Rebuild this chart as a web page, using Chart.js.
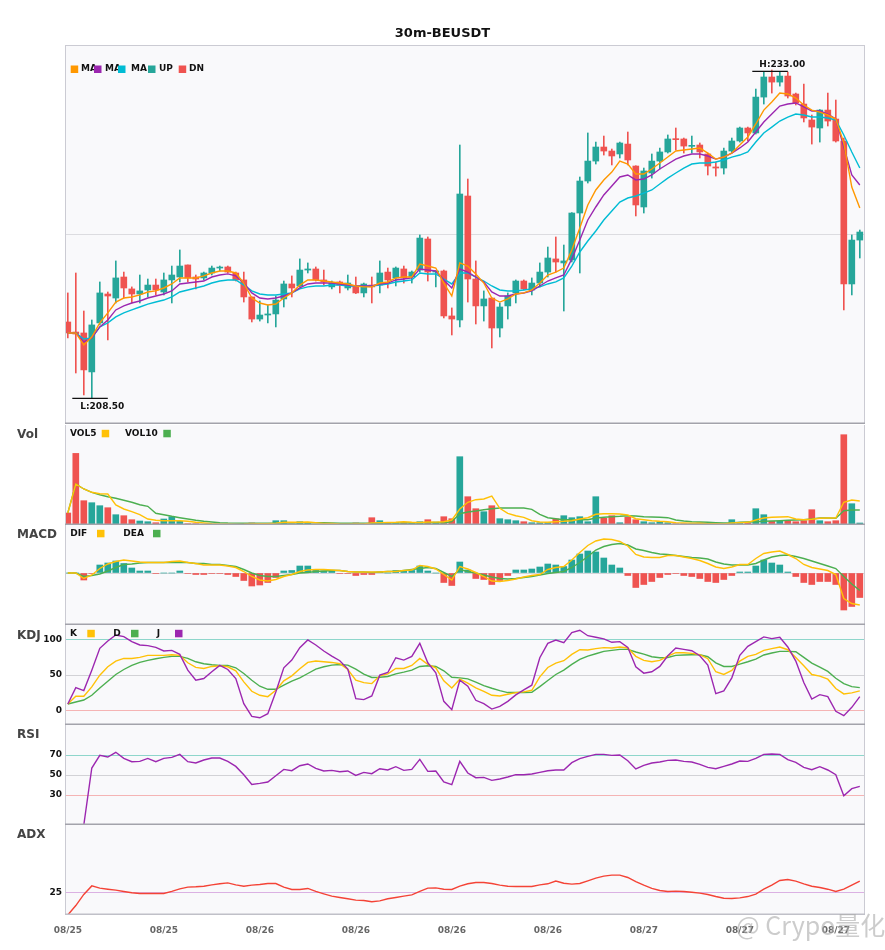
<!DOCTYPE html>
<html>
<head>
<meta charset="utf-8">
<title>30m-BEUSDT</title>
<script src="https://cdn.jsdelivr.net/npm/chart.js@4.4.0/dist/chart.umd.min.js"></script>
<style>
  body { margin: 0; background: #fff; }
  #wrap { position: relative; width: 885px; height: 950px; overflow: hidden; }
  #wrap canvas { position: absolute; left: 0; }
</style>
</head>
<body>
<div id="wrap">
  <canvas id="cMain" width="885" height="425" style="top:0"></canvas>
  <canvas id="cVol" width="885" height="100" style="top:425px"></canvas>
  <canvas id="cMacd" width="885" height="100" style="top:525px"></canvas>
  <canvas id="cKdj" width="885" height="100" style="top:625px"></canvas>
  <canvas id="cRsi" width="885" height="100" style="top:725px"></canvas>
  <canvas id="cAdx" width="885" height="125" style="top:825px"></canvas>
</div>
<script>
// x axis tick labels (one every 12 candles of 30m)
var tickLabels = ['08/25', '08/25', '08/26', '08/26', '08/26', '08/26', '08/27', '08/27', '08/27'];
var tickIdx = [0, 12, 24, 36, 48, 60, 72, 84, 96];

// candles
var open = [214.18, 213.43, 213.36, 210.45, 214.11, 216.27, 215.97, 217.54, 216.65, 216.27,
  216.57, 216.94, 216.42, 217.32, 217.54, 218.44, 217.54, 217.47, 217.84, 218.21,
  218.29, 217.84, 217.32, 216.05, 214.40, 214.70, 214.78, 215.90, 217.02, 216.87,
  218.06, 218.14, 217.32, 216.80, 217.17, 216.72, 216.80, 216.35, 216.94, 216.94,
  217.91, 217.47, 218.14, 217.54, 218.06, 220.38, 217.91, 217.99, 214.63, 214.33,
  223.59, 217.39, 215.38, 215.97, 213.73, 215.38, 216.35, 217.24, 216.57, 217.09,
  217.91, 218.89, 218.59, 218.81, 222.32, 224.71, 226.20, 227.25, 226.95, 226.73,
  227.47, 225.83, 222.77, 225.31, 226.20, 226.88, 227.85, 227.85, 227.30, 227.40,
  226.73, 225.76, 225.68, 226.95, 227.70, 228.67, 228.30, 230.98, 232.48, 232.10,
  232.55, 231.21, 230.46, 229.27, 228.67, 230.01, 229.34, 227.70, 217.02, 220.30];
var high = [216.35, 217.84, 215.00, 214.33, 217.17, 216.42, 218.74, 217.91, 216.80, 217.69,
  217.39, 217.39, 217.84, 218.36, 219.56, 218.44, 217.69, 217.91, 218.36, 218.36,
  218.36, 217.91, 217.91, 216.05, 215.75, 215.45, 216.12, 217.24, 217.62, 218.89,
  218.59, 218.29, 218.06, 217.24, 217.24, 217.69, 217.54, 217.09, 217.54, 218.74,
  218.21, 218.29, 218.36, 217.99, 220.68, 220.53, 218.00, 218.06, 215.23, 227.40,
  224.86, 218.74, 216.50, 215.97, 215.60, 216.35, 217.32, 217.32, 217.47, 218.59,
  219.78, 220.53, 219.93, 222.35, 225.01, 228.30, 227.62, 228.07, 227.10, 227.62,
  228.37, 225.85, 225.68, 226.73, 227.17, 228.15, 228.67, 227.92, 228.07, 227.55,
  226.80, 226.13, 227.17, 227.92, 228.74, 228.74, 231.58, 232.85, 233.00, 232.85,
  232.85, 231.28, 231.95, 229.64, 230.05, 231.28, 230.76, 227.92, 220.68, 221.05];
var low = [212.99, 210.37, 208.73, 208.50, 213.96, 212.84, 215.60, 215.97, 215.60, 215.60,
  216.05, 216.20, 216.20, 215.60, 217.17, 217.17, 216.65, 217.32, 217.69, 217.99,
  217.84, 217.24, 215.67, 214.18, 214.25, 214.11, 213.81, 215.30, 216.05, 216.80,
  217.84, 217.24, 216.94, 216.65, 216.35, 216.57, 216.30, 216.05, 215.60, 216.35,
  216.72, 216.87, 217.09, 217.09, 217.91, 217.24, 216.80, 214.48, 213.21, 213.81,
  215.67, 214.03, 214.25, 212.24, 213.06, 214.40, 215.60, 216.57, 216.20, 216.80,
  217.54, 217.91, 215.00, 218.66, 217.84, 224.56, 225.98, 226.65, 225.91, 226.43,
  225.91, 222.10, 222.32, 224.93, 225.61, 226.80, 227.03, 226.80, 226.80, 226.43,
  225.16, 225.08, 225.23, 226.80, 227.62, 227.70, 228.22, 230.46, 231.28, 231.80,
  230.91, 230.39, 229.12, 227.47, 227.62, 228.82, 227.62, 215.08, 216.20, 218.96];
var close = [213.36, 213.28, 210.60, 213.96, 216.35, 216.12, 217.47, 216.72, 216.27, 216.50,
  216.94, 216.57, 217.32, 217.69, 218.36, 217.47, 217.39, 217.84, 218.21, 218.25,
  217.91, 217.32, 216.05, 214.40, 214.70, 214.78, 215.82, 217.02, 216.72, 218.06,
  218.14, 217.32, 217.17, 217.09, 216.94, 217.09, 216.35, 217.02, 216.80, 217.84,
  217.32, 218.21, 217.47, 217.91, 220.45, 217.91, 217.99, 214.63, 214.40, 223.74,
  217.39, 215.38, 215.90, 213.73, 215.30, 216.12, 217.24, 216.65, 217.09, 217.91,
  218.96, 218.66, 218.74, 222.32, 224.71, 226.20, 227.25, 226.95, 226.58, 227.55,
  226.28, 222.92, 225.46, 226.20, 226.88, 227.85, 227.80, 227.32, 227.35, 226.88,
  225.83, 225.68, 226.95, 227.70, 228.67, 228.30, 230.98, 232.48, 232.10, 232.55,
  231.06, 230.54, 229.42, 228.74, 230.01, 229.19, 227.70, 217.02, 220.30, 220.90];

// moving averages
var ma5 = [213.36, 213.36, 212.47, 213.06, 214.11, 214.86, 215.67, 215.97, 216.05, 216.20,
  216.42, 216.50, 216.72, 217.02, 217.47, 217.47, 217.47, 217.62, 217.84, 217.99,
  217.99, 217.84, 217.09, 215.97, 215.60, 215.45, 215.52, 215.97, 216.35, 216.94,
  217.32, 217.32, 217.24, 217.17, 217.09, 217.02, 216.87, 216.80, 216.80, 217.09,
  217.17, 217.47, 217.54, 217.54, 218.51, 218.36, 218.21, 217.09, 216.12, 218.59,
  218.36, 217.77, 217.09, 215.97, 215.67, 215.90, 216.27, 216.35, 216.57, 217.09,
  217.69, 217.91, 218.21, 219.56, 221.20, 222.92, 224.04, 224.79, 225.38, 226.20,
  225.98, 225.23, 225.23, 225.61, 226.06, 226.50, 226.95, 227.03, 227.10, 227.17,
  226.80, 226.35, 226.50, 226.80, 227.40, 228.00, 228.97, 230.01, 230.61, 231.28,
  231.21, 230.91, 230.39, 230.01, 229.86, 229.64, 229.34, 227.55, 224.26, 222.69];
var ma10 = [213.36, 213.36, 212.69, 212.99, 213.81, 214.33, 215.08, 215.38, 215.60, 215.75,
  215.97, 216.12, 216.27, 216.50, 217.02, 217.09, 217.17, 217.24, 217.54, 217.69,
  217.77, 217.62, 217.09, 216.35, 215.97, 215.90, 215.97, 216.12, 216.35, 216.72,
  217.02, 217.09, 217.09, 217.09, 217.02, 216.94, 216.87, 216.87, 216.87, 217.02,
  217.09, 217.32, 217.39, 217.47, 218.14, 218.06, 217.99, 217.32, 216.72, 218.14,
  217.91, 217.54, 217.17, 216.42, 216.12, 216.12, 216.27, 216.35, 216.50, 216.87,
  217.24, 217.47, 217.69, 218.89, 220.30, 221.80, 222.77, 223.67, 224.34, 225.01,
  225.16, 224.79, 224.86, 225.16, 225.61, 225.98, 226.35, 226.58, 226.73, 226.73,
  226.58, 226.35, 226.50, 226.80, 227.18, 227.62, 228.37, 229.12, 229.71, 230.31,
  230.46, 230.54, 230.24, 229.94, 229.94, 229.71, 229.34, 227.25, 225.16, 224.41];
var ma20 = [213.36, 213.36, 212.91, 212.99, 213.81, 214.11, 214.56, 214.86, 215.08, 215.30,
  215.52, 215.67, 215.82, 216.05, 216.42, 216.57, 216.72, 216.87, 217.09, 217.24,
  217.32, 217.32, 216.94, 216.50, 216.27, 216.20, 216.20, 216.27, 216.35, 216.65,
  216.80, 216.87, 216.87, 216.94, 216.94, 216.87, 216.87, 216.87, 216.87, 216.94,
  217.02, 217.17, 217.24, 217.32, 217.84, 217.77, 217.77, 217.39, 217.02, 217.84,
  217.84, 217.54, 217.24, 216.87, 216.57, 216.50, 216.50, 216.57, 216.65, 216.80,
  217.02, 217.17, 217.47, 218.36, 219.41, 220.23, 220.98, 221.80, 222.47, 223.14,
  223.44, 223.59, 223.81, 224.04, 224.49, 224.93, 225.31, 225.68, 225.98, 226.06,
  226.06, 226.13, 226.28, 226.50, 226.65, 226.88, 227.62, 228.30, 228.74, 229.19,
  229.49, 229.71, 229.64, 229.49, 229.49, 229.42, 229.27, 228.15, 226.88, 225.68];

// volume
var vol = [1200, 7160, 2430, 2230, 1930, 1730, 1030, 930, 530, 400,
  330, 230, 600, 830, 370, 130, 130, 40, 50, 50,
  60, 80, 100, 200, 100, 100, 430, 430, 100, 330,
  200, 70, 100, 70, 70, 70, 200, 70, 730, 430,
  200, 270, 230, 200, 330, 530, 300, 830, 630, 6830,
  2830, 1630, 1330, 1930, 630, 530, 430, 330, 230, 230,
  270, 600, 930, 730, 830, 330, 2830, 670, 930, 230,
  770, 530, 330, 230, 330, 230, 130, 130, 130, 200,
  130, 130, 70, 530, 200, 200, 1630, 1030, 370, 370,
  430, 330, 430, 1530, 430, 330, 430, 9030, 2130, 200];
var vol5 = [1200, 4100, 3600, 3270, 3130, 3100, 2000, 1600, 1330, 1030,
  600, 470, 430, 430, 430, 370, 270, 200, 130, 80,
  70, 60, 70, 100, 120, 130, 190, 270, 270, 280,
  300, 230, 160, 150, 100, 80, 110, 100, 210, 240,
  260, 280, 320, 270, 250, 300, 290, 330, 500, 1600,
  2270, 2530, 2600, 2900, 1670, 1170, 930, 770, 430, 300,
  270, 330, 370, 430, 600, 730, 1070, 1130, 1130, 1100,
  1000, 630, 530, 430, 370, 330, 230, 200, 170, 170,
  130, 130, 100, 200, 230, 270, 500, 700, 770, 800,
  830, 600, 530, 570, 670, 700, 700, 2270, 2500, 2400];
var vol10 = [1200, 4100, 3600, 3270, 3030, 2830, 2670, 2470, 2270, 2030,
  1870, 1170, 1030, 870, 730, 600, 470, 370, 300, 230,
  200, 190, 180, 180, 180, 170, 170, 200, 200, 220,
  230, 230, 220, 200, 180, 170, 170, 170, 180, 180,
  190, 190, 200, 200, 200, 220, 230, 200, 330, 1130,
  1300, 1400, 1530, 1630, 1700, 1700, 1700, 1700, 1570, 1070,
  730, 630, 530, 530, 530, 530, 700, 770, 830, 870,
  930, 900, 830, 800, 770, 730, 500, 400, 330, 300,
  270, 230, 200, 200, 270, 300, 330, 370, 400, 430,
  470, 500, 530, 600, 700, 700, 670, 1430, 1500, 1500];

// MACD
var dif = [0, 0, -0.11, -0.04, 0.09, 0.18, 0.23, 0.26, 0.24, 0.22,
  0.21, 0.21, 0.21, 0.23, 0.24, 0.21, 0.19, 0.16, 0.16, 0.16,
  0.14, 0.11, 0.03, -0.07, -0.14, -0.16, -0.13, -0.07, -0.03, 0.03,
  0.06, 0.07, 0.07, 0.06, 0.05, 0.03, 0.02, 0.02, 0.02, 0.02,
  0.03, 0.03, 0.05, 0.06, 0.15, 0.13, 0.08, -0.03, -0.14, 0.13,
  0.08, 0.01, -0.07, -0.16, -0.17, -0.15, -0.12, -0.08, -0.05, -0.03,
  0.07, 0.11, 0.13, 0.26, 0.41, 0.55, 0.64, 0.68, 0.67, 0.63,
  0.54, 0.37, 0.32, 0.31, 0.31, 0.35, 0.35, 0.32, 0.29, 0.25,
  0.19, 0.12, 0.09, 0.12, 0.17, 0.17, 0.29, 0.39, 0.42, 0.44,
  0.37, 0.29, 0.17, 0.11, 0.08, 0.05, -0.03, -0.51, -0.61, -0.64];
var dea = [0, 0, -0.07, -0.05, -0.02, 0.04, 0.11, 0.17, 0.18, 0.20,
  0.21, 0.21, 0.21, 0.21, 0.21, 0.21, 0.19, 0.19, 0.17, 0.17,
  0.15, 0.13, 0.07, 0.00, -0.05, -0.07, -0.07, -0.05, -0.03, 0.00,
  0.01, 0.03, 0.04, 0.05, 0.05, 0.03, 0.02, 0.02, 0.01, 0.02,
  0.03, 0.03, 0.05, 0.07, 0.09, 0.11, 0.09, 0.01, -0.07, 0.07,
  0.03, 0.00, -0.04, -0.08, -0.11, -0.12, -0.11, -0.09, -0.07, -0.04,
  -0.01, 0.01, 0.03, 0.11, 0.21, 0.33, 0.46, 0.53, 0.57, 0.59,
  0.56, 0.48, 0.45, 0.41, 0.38, 0.37, 0.35, 0.33, 0.31, 0.30,
  0.28, 0.22, 0.18, 0.16, 0.16, 0.16, 0.19, 0.26, 0.32, 0.35,
  0.36, 0.33, 0.29, 0.24, 0.19, 0.14, 0.09, -0.07, -0.22, -0.35];
var macd = [0, 0, -0.14, -0.01, 0.16, 0.20, 0.24, 0.19, 0.10, 0.04,
  0.04, -0.01, 0.00, 0.00, 0.04, -0.01, -0.03, -0.03, -0.01, -0.01,
  -0.03, -0.07, -0.15, -0.26, -0.24, -0.19, -0.09, 0.04, 0.05, 0.14,
  0.14, 0.07, 0.04, 0.04, -0.01, -0.01, -0.05, -0.03, -0.03, 0.02,
  0.00, 0.05, 0.05, 0.05, 0.14, 0.04, 0.00, -0.19, -0.25, 0.22,
  0.06, -0.11, -0.13, -0.23, -0.15, -0.05, 0.06, 0.06, 0.08, 0.12,
  0.18, 0.16, 0.13, 0.26, 0.38, 0.44, 0.42, 0.30, 0.16, 0.10,
  -0.05, -0.29, -0.23, -0.17, -0.09, -0.03, -0.01, -0.05, -0.07, -0.11,
  -0.17, -0.19, -0.13, -0.05, 0.02, 0.02, 0.14, 0.26, 0.20, 0.16,
  0.02, -0.07, -0.19, -0.23, -0.17, -0.17, -0.23, -0.74, -0.67, -0.49];

// KDJ
var kdjK = [9.4, 20.2, 20.2, 33.3, 49.8, 61.5, 69.5, 73.2, 73.2, 74.6,
  77.5, 77.5, 77.5, 78.4, 77.5, 67.1, 60.6, 59.2, 62.0, 62.9,
  61.5, 55.9, 40.4, 27.2, 21.6, 19.7, 28.6, 41.8, 48.8, 58.7,
  67.6, 69.5, 68.5, 67.6, 65.7, 57.7, 42.7, 39.4, 38.0, 48.8,
  51.6, 59.2, 59.2, 63.4, 73.2, 64.8, 60.1, 41.8, 31.9, 44.1,
  38.5, 31.9, 27.2, 21.6, 20.7, 23.0, 25.4, 26.3, 28.6, 47.4,
  60.6, 66.7, 70.0, 78.9, 85.4, 85.0, 86.9, 88.3, 87.8, 89.2,
  87.8, 76.1, 70.4, 68.5, 70.4, 76.5, 81.2, 81.2, 80.3, 78.4,
  72.8, 54.5, 50.7, 56.3, 69.5, 76.1, 78.9, 84.5, 86.9, 89.2,
  85.4, 74.6, 62.9, 50.7, 48.4, 44.1, 31.0, 23.5, 24.9, 27.7];
var kdjD = [9.4, 12.2, 15.0, 21.6, 31.9, 41.3, 50.7, 57.7, 63.4, 67.6,
  70.4, 72.8, 74.6, 76.1, 76.1, 73.2, 68.5, 65.7, 64.3, 63.4,
  63.4, 60.1, 52.1, 42.7, 34.3, 30.0, 30.0, 35.7, 41.3, 46.0,
  52.1, 58.2, 61.5, 63.8, 64.8, 63.8, 58.2, 51.2, 46.5, 46.9,
  47.9, 51.6, 54.0, 56.8, 62.0, 62.9, 62.0, 55.9, 46.9, 46.0,
  44.6, 39.9, 35.2, 31.5, 28.2, 25.4, 25.4, 25.4, 25.8, 33.8,
  42.3, 50.7, 56.8, 64.8, 71.8, 76.5, 79.8, 83.1, 84.5, 85.9,
  85.9, 82.2, 79.3, 75.6, 74.2, 74.6, 77.5, 78.0, 78.4, 78.4,
  75.6, 67.1, 62.0, 62.0, 65.3, 68.5, 72.3, 78.0, 80.8, 83.1,
  83.1, 82.6, 74.6, 66.7, 61.0, 55.0, 45.5, 38.0, 33.8, 32.4];
var kdjJ = [9.4, 32.4, 28.2, 56.8, 87.3, 97.7, 106.0, 103.8, 96.7, 92.0,
  91.1, 88.7, 83.6, 84.5, 78.9, 56.8, 42.7, 45.1, 54.5, 63.4,
  57.7, 45.1, 9.9, -8.0, -9.9, -4.2, 26.3, 60.1, 70.9, 88.3,
  99.0, 92.0, 83.6, 76.5, 70.0, 58.2, 16.9, 15.5, 20.7, 49.8,
  53.5, 74.2, 70.9, 76.1, 94.4, 67.1, 53.1, 13.1, 1.4, 42.7,
  34.3, 14.6, 9.9, 2.3, 6.1, 13.1, 22.1, 29.1, 35.7, 74.2,
  94.4, 99.0, 95.3, 109.4, 112.7, 105.0, 102.8, 100.5, 95.8, 96.7,
  88.7, 61.5, 52.6, 54.5, 62.0, 77.0, 87.8, 85.9, 84.0, 77.0,
  63.8, 23.9, 27.7, 46.0, 77.5, 90.1, 96.7, 103.3, 100.9, 102.8,
  89.2, 69.5, 39.4, 16.4, 22.5, 19.7, -0.9, -7.0, 4.7, 19.7];

// RSI
var rsi = [null, null, 0, 57.0, 69.6, 68.0, 72.7, 66.6, 63.3, 63.6,
  66.6, 63.3, 66.6, 67.6, 70.6, 63.3, 62.0, 65.0, 67.0, 67.0,
  63.6, 58.6, 50.3, 40.6, 41.6, 43.0, 49.3, 55.6, 54.3, 59.3,
  61.0, 56.6, 54.0, 54.6, 53.3, 54.0, 49.6, 52.6, 51.3, 56.3,
  55.0, 58.3, 54.6, 55.6, 65.6, 53.6, 54.0, 43.0, 40.3, 63.6,
  52.0, 47.3, 47.6, 44.6, 46.0, 48.0, 50.3, 50.3, 51.0, 52.6,
  54.3, 55.0, 55.0, 62.3, 66.3, 68.6, 70.6, 70.6, 69.6, 70.0,
  64.3, 56.0, 59.6, 62.0, 63.0, 64.6, 65.0, 63.6, 63.0, 60.6,
  57.6, 56.3, 58.6, 61.0, 64.0, 63.6, 66.6, 70.6, 71.0, 70.6,
  65.3, 62.6, 57.6, 55.3, 58.3, 55.0, 50.3, 29.3, 36.3, 38.6];

// ADX
var adx = [10.0, 16.3, 23.7, 29.4, 27.9, 27.2, 26.6, 25.7, 24.8, 24.3,
  24.3, 24.3, 24.3, 25.7, 27.4, 28.6, 28.8, 29.2, 30.1, 30.8,
  31.4, 30.1, 29.2, 29.9, 30.3, 31.0, 31.0, 28.6, 27.0, 27.0,
  27.7, 25.7, 24.1, 22.6, 21.7, 20.8, 19.9, 19.7, 18.8, 19.4,
  20.8, 21.7, 22.6, 23.4, 25.7, 27.9, 28.1, 27.2, 27.0, 29.2,
  30.8, 31.7, 31.7, 31.0, 29.9, 29.2, 29.0, 29.0, 29.0, 30.1,
  30.8, 32.6, 31.2, 30.6, 31.0, 32.8, 34.6, 35.9, 36.6, 36.6,
  35.0, 32.3, 29.9, 27.7, 26.3, 25.7, 25.9, 25.7, 25.2, 24.6,
  23.7, 22.3, 21.2, 21.0, 21.4, 22.3, 23.9, 27.2, 29.9, 33.0,
  33.7, 32.6, 30.8, 29.2, 28.3, 27.2, 25.7, 27.2, 29.9, 32.6];

// colours
var UP = '#26a69a', DN = '#ef5350';
var ORANGE = '#ff9800', PURPLE = '#9c27b0', CYAN = '#00bcd4';
var YELLOW = '#ffc107', GREEN = '#4caf50', RED = '#f44336';
var FONT = '"DejaVu Sans", sans-serif';

Chart.defaults.font.family = FONT;

function pts(arr) {
  return arr.map(function (v, i) { return { x: i, y: v }; });
}
var dirColor = close.map(function (c, i) { return c >= open[i] ? UP : DN; });
var macdColor = macd.map(function (v) { return v >= 0 ? UP : DN; });

function lineSet(arr, color, order) {
  return {
    type: 'line', data: pts(arr), borderColor: color, backgroundColor: color,
    borderWidth: 1.4, pointRadius: 0, tension: 0, fill: false, order: order || 0
  };
}

function xAxis(show) {
  var x = {
    type: 'linear', min: -0.35, max: 99.65, offset: false, display: show,
    grid: { display: false }, border: { display: false },
    afterBuildTicks: function (s) { s.ticks = tickIdx.map(function (v) { return { value: v }; }); },
    ticks: {
      autoSkip: false, maxRotation: 0, padding: 2, color: '#666',
      font: { size: 9, weight: 'bold' },
      callback: function (v, k) { return tickLabels[k]; }
    }
  };
  // only the bottom panel keeps room for the dates
  if (show) x.afterFit = function (s) { s.height = 35; };
  return x;
}

function yAxis(min, max, ticks, colors, showLabels) {
  var y = {
    min: min, max: max, position: 'left',
    afterFit: function (s) {
      // fixed gutter, and no extra room for the edge labels
      s.width = 65;
      s.paddingTop = 0;
      s.paddingBottom = 0;
    },
    border: { display: false },
    grid: {
      display: !!ticks, drawTicks: false, lineWidth: 1,
      color: function (c) { return ticks ? (colors[ticks.indexOf(c.tick.value)] || '#ddd') : '#ddd'; }
    },
    ticks: { display: showLabels, padding: 3, color: '#111', font: { size: 9, weight: 'bold' } }
  };
  if (ticks) {
    y.afterBuildTicks = function (s) { s.ticks = ticks.map(function (v) { return { value: v }; }); };
  }
  return y;
}

// background, frame, panel title, legend and extra text
var panelPlugin = {
  id: 'panel',
  beforeDraw: function (chart) {
    var ctx = chart.ctx, a = chart.chartArea;
    ctx.save();
    ctx.fillStyle = '#f9f9fb';
    ctx.fillRect(a.left, a.top, a.right - a.left, a.bottom - a.top);
    ctx.restore();
  },
  afterDraw: function (chart) {
    var o = chart.options.plugins.panel;
    var ctx = chart.ctx, a = chart.chartArea;
    ctx.save();
    // frame
    ctx.strokeStyle = '#cbcbd3';
    ctx.lineWidth = 1;
    ctx.beginPath();
    ctx.moveTo(a.left + 0.5, a.top); ctx.lineTo(a.left + 0.5, a.bottom);
    ctx.moveTo(a.right - 0.5, a.top); ctx.lineTo(a.right - 0.5, a.bottom);
    if (o.topLine) { ctx.moveTo(a.left, a.top + 0.5); ctx.lineTo(a.right, a.top + 0.5); }
    ctx.stroke();
    ctx.strokeStyle = o.bottomColor || '#a3a3ab';
    ctx.lineWidth = 1.5;
    ctx.beginPath();
    ctx.moveTo(a.left, a.bottom - 0.75); ctx.lineTo(a.right, a.bottom - 0.75);
    ctx.stroke();

    // panel name on the left
    if (o.name) {
      ctx.fillStyle = '#444';
      ctx.font = 'bold 12px ' + FONT;
      ctx.textAlign = 'left';
      ctx.textBaseline = 'middle';
      ctx.fillText(o.name, 17, o.nameY);
    }

    // legend row
    ctx.font = 'bold 9px ' + FONT;
    ctx.textBaseline = 'middle';
    ctx.textAlign = 'left';
    (o.legend || []).forEach(function (it) {
      if (it.box) {
        ctx.fillStyle = it.box;
        ctx.fillRect(it.x, o.legendY - 3.5, 7.5, 7.5);
      } else {
        ctx.fillStyle = '#111';
        ctx.fillText(it.text, it.x, o.legendY);
      }
    });

    // chart title
    if (o.title) {
      ctx.fillStyle = '#111';
      ctx.font = 'bold 13px ' + FONT;
      ctx.textAlign = 'center';
      ctx.fillText(o.title, 442.5, 34);
    }

    // highest / lowest marks
    if (o.marks) {
      var xs = chart.scales.x, ys = chart.scales.y;
      var hi = high.indexOf(Math.max.apply(null, high));
      var lo = low.indexOf(Math.min.apply(null, low));
      ctx.strokeStyle = '#111';
      ctx.lineWidth = 1.3;
      ctx.fillStyle = '#111';
      ctx.font = 'bold 9px ' + FONT;
      ctx.textAlign = 'center';
      var hx = xs.getPixelForValue(hi), hy = ys.getPixelForValue(high[hi]);
      ctx.beginPath(); ctx.moveTo(hx - 19.5, hy + 1.3); ctx.lineTo(hx + 16, hy + 1.3); ctx.stroke();
      ctx.fillText('H:' + high[hi].toFixed(2), hx + 10.5, hy - 5.3);
      var lx = xs.getPixelForValue(lo), ly = ys.getPixelForValue(low[lo]);
      ctx.beginPath(); ctx.moveTo(lx - 19.5, ly + 0.3); ctx.lineTo(lx + 16, ly + 0.3); ctx.stroke();
      ctx.fillText('L:' + low[lo].toFixed(2), lx + 10.5, ly + 8.7);
    }

    // watermark
    if (o.watermark) {
      ctx.fillStyle = 'rgba(170,170,170,0.6)';
      ctx.font = '25px "Noto Sans CJK SC", sans-serif';
      ctx.textAlign = 'left';
      ctx.textBaseline = 'middle';
      ctx.fillText(o.watermark, 736, 100);
    }
    ctx.restore();
  }
};

function makeChart(id, type, datasets, y, showX, panel, padTop, padBottom) {
  return new Chart(document.getElementById(id), {
    type: type,
    data: { datasets: datasets },
    options: {
      responsive: false,
      animation: false,
      events: [],
      layout: { padding: { top: padTop || 0, bottom: padBottom || 0, left: 0, right: 20 } },
      scales: { x: xAxis(showX), y: y },
      plugins: { legend: { display: false }, tooltip: { enabled: false }, panel: panel }
    },
    plugins: [panelPlugin]
  });
}

// main candle panel
makeChart('cMain', 'bar', [
  lineSet(ma5, ORANGE, 0),
  lineSet(ma10, PURPLE, 0),
  lineSet(ma20, CYAN, 0),
  {
    data: open.map(function (o, i) { return { x: i, y: [o, close[i]] }; }),
    backgroundColor: dirColor, barThickness: 6, minBarLength: 1, grouped: false, order: 1
  },
  {
    data: low.map(function (l, i) { return { x: i, y: [l, high[i]] }; }),
    backgroundColor: dirColor, barThickness: 1, grouped: false, order: 2
  }
], yAxis(206.56, 234.87, [220.715], ['#dcdce0'], false), false, {
  topLine: true, title: '30m-BEUSDT', marks: true, legendY: 69,
  legend: [
    { box: ORANGE, x: 70.7 }, { text: 'MA', x: 81 },
    { box: PURPLE, x: 94 }, { text: 'MA', x: 105 },
    { box: CYAN, x: 118 }, { text: 'MA', x: 131 },
    { box: UP, x: 148 }, { text: 'UP', x: 159 },
    { box: DN, x: 178.7 }, { text: 'DN', x: 189 }
  ]
}, 45, 1);

// volume panel
makeChart('cVol', 'bar', [
  lineSet(vol5, YELLOW, 0),
  lineSet(vol10, GREEN, 0),
  { data: pts(vol), backgroundColor: dirColor, barThickness: 6, grouped: false, order: 2 }
], yAxis(0, 10000, null, null, false), false, {
  name: 'Vol', nameY: 9.5, legendY: 8.3,
  legend: [
    { text: 'VOL5', x: 70 }, { box: YELLOW, x: 101.7 },
    { text: 'VOL10', x: 125 }, { box: GREEN, x: 163.3 }
  ]
});

// MACD panel
makeChart('cMacd', 'bar', [
  lineSet(dif, YELLOW, 0),
  lineSet(dea, GREEN, 0),
  { data: pts(macd), backgroundColor: macdColor, barThickness: 6, grouped: false, order: 2 }
], yAxis(-1.04, 0.96, [0], ['#d5d5d9'], false), false, {
  name: 'MACD', nameY: 10, legendY: 8.3,
  legend: [
    { text: 'DIF', x: 70.3 }, { box: YELLOW, x: 97 },
    { text: 'DEA', x: 123.3 }, { box: GREEN, x: 153 }
  ]
});

// KDJ panel
makeChart('cKdj', 'line', [
  lineSet(kdjJ, PURPLE, 0),
  lineSet(kdjK, YELLOW, 1),
  lineSet(kdjD, GREEN, 2)
], yAxis(-20, 120, [0, 50, 100], ['#f5b4b4', '#d2d2d6', '#8ed6cb'], true), false, {
  name: 'KDJ', nameY: 10.5, legendY: 8.3,
  legend: [
    { text: 'K', x: 70 }, { box: YELLOW, x: 87.3 },
    { text: 'D', x: 113.3 }, { box: GREEN, x: 131 },
    { text: 'J', x: 156.7 }, { box: PURPLE, x: 175 }
  ]
});

// RSI panel
makeChart('cRsi', 'line', [
  lineSet(rsi, PURPLE, 0)
], yAxis(0, 100, [30, 50, 70], ['#f5b4b4', '#d2d2d6', '#8ed6cb'], true), false, {
  name: 'RSI', nameY: 10
});

// ADX panel with the date axis
makeChart('cAdx', 'line', [
  lineSet(adx, RED, 0)
], yAxis(10, 70, [25], ['#dbb1e3'], true), true, {
  name: 'ADX', nameY: 10, bottomColor: '#c0c0c8', watermark: '@ Crypo量化'
});
</script>
</body>
</html>
